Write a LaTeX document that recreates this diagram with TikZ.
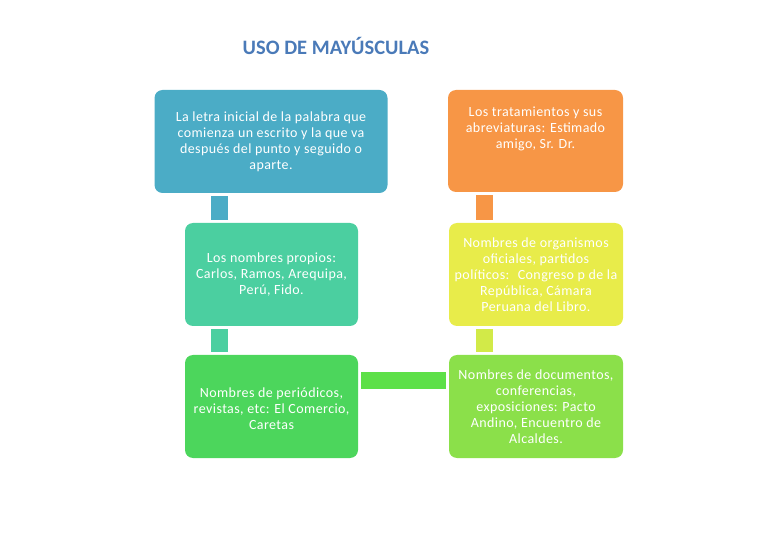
\documentclass[tikz,border=0pt]{standalone}
\usepackage{fontspec}
\setmainfont{Carlito}
\newfontfamily\spacedfont[LetterSpace=3]{Carlito}
\usetikzlibrary{calc}
\definecolor{cblue}{HTML}{4BACC6}
\definecolor{cteal}{HTML}{4BCFA0}
\definecolor{cgreen}{HTML}{4CD65C}
\definecolor{clime}{HTML}{8BE04A}
\definecolor{cyellow}{HTML}{E8EC4A}
\definecolor{corange}{HTML}{F79646}
\definecolor{chline}{HTML}{5DE048}
\definecolor{cvline}{HTML}{D2EA48}
\definecolor{ctitle}{HTML}{4A7AB8}
\tikzset{
  card/.style={fill=#1, draw=none, rounded corners=8pt, inner sep=0pt},
  cardtext/.style={text=white, align=center, font=\spacedfont\fontsize{14}{16}\selectfont, inner sep=0pt},
  conn/.style={draw=#1, line width=17pt}
}
\begin{document}
\begin{tikzpicture}[x=1pt,y=-1pt]
\useasboundingbox (0,0) rectangle (780,540);
% title
\node[text=ctitle, font=\fontsize{20.5}{22}\selectfont\bfseries] (title) at (336,46) {USO DE MAYÚSCULAS};
% boxes
\node[card=cblue, minimum width=233pt, minimum height=103pt] (b1) at (271,141.5) {};
\node[cardtext] (t1) at (b1.center) {La letra inicial de la palabra que\\comienza un escrito y la que va\\después del punto y seguido o\\aparte.};
\node[card=corange, minimum width=175pt, minimum height=102pt] (b4) at (535.5,141) {};
\node[cardtext, anchor=north] (t4) at ($(b4.north)+(0,17)$) {Los tratamientos y sus\\abreviaturas: Estimado\\amigo, Sr. Dr.};
\node[card=cteal, minimum width=173pt, minimum height=103pt] (b2) at (271.5,274.5) {};
\node[cardtext] (t2) at (b2.center) {Los nombres propios:\\Carlos, Ramos, Arequipa,\\Perú, Fido.};
\node[card=cyellow, minimum width=174pt, minimum height=103pt] (b5) at (536,274.5) {};
\node[cardtext] (t5) at (b5.center) {Nombres de organismos\\oficiales, partidos\\políticos:~ Congreso p de la\\República, Cámara\\Peruana del Libro.};
\node[card=cgreen, minimum width=173pt, minimum height=103pt] (b3) at (271.5,406.5) {};
\node[cardtext] (t3) at ($(b3.center)+(0,2)$) {Nombres de periódicos,\\revistas, etc: El Comercio,\\Caretas};
\node[card=clime, minimum width=174pt, minimum height=103pt] (b6) at (536,406.5) {};
\node[cardtext] (t6) at (b6.center) {Nombres de documentos,\\conferencias,\\exposiciones: Pacto\\Andino, Encuentro de\\Alcaldes.};
% connectors
\coordinate (lx) at (219.5,0);
\coordinate (rx) at (484.5,0);
\draw[conn=cblue] ($(b1.south -| lx)+(0,3)$) -- ($(b2.north -| lx)+(0,-3)$);
\draw[conn=cteal] ($(b2.south -| lx)+(0,3)$) -- ($(b3.north -| lx)+(0,-3)$);
\draw[conn=corange] ($(b4.south -| rx)+(0,3)$) -- ($(b5.north -| rx)+(0,-3)$);
\draw[conn=cvline] ($(b5.south -| rx)+(0,3)$) -- ($(b6.north -| rx)+(0,-3)$);
\draw[conn=chline] ($(b3.east)+(3,-26)$) -- ($(b6.west)+(-3,-26)$);
\end{tikzpicture}
\end{document}
